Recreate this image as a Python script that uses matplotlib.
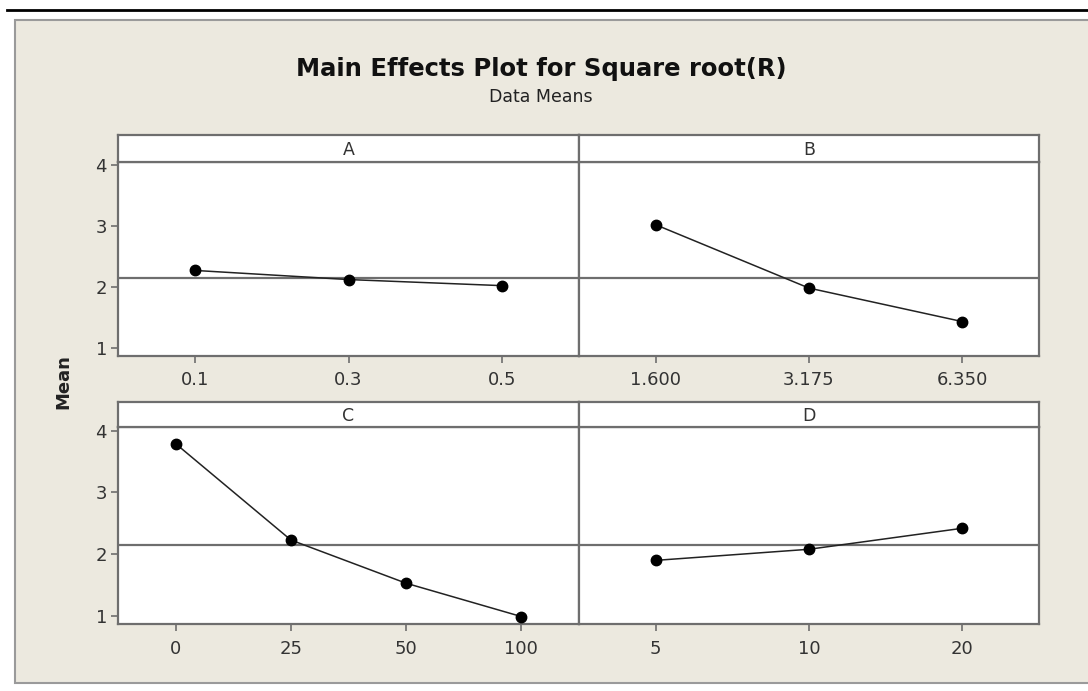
import matplotlib
matplotlib.use("Agg")
import matplotlib.pyplot as plt
from matplotlib.lines import Line2D
from matplotlib.patches import Rectangle

FACTORES = ["A", "B", "C", "D"]
NIVELES = {
    "A": ["0.1", "0.3", "0.5"],
    "B": ["1.600", "3.175", "6.350"],
    "C": ["0", "25", "50", "100"],
    "D": ["5", "10", "20"],
}
MEDIAS = {
    "A": [2.27, 2.12, 2.02],
    "B": [3.02, 1.98, 1.43],
    "C": [3.79, 2.23, 1.53, 0.99],
    "D": [1.90, 2.08, 2.42],
}
MEDIA_GLOBAL = 2.15
Y_TICKS = [1, 2, 3, 4]

ANCHO, ALTO = 1088, 691
FONDO = "#ece9df"
GRIS = "#6e6e6e"
plt.rcParams["font.family"] = "DejaVu Sans"

fig = plt.figure(figsize=(ANCHO / 100, ALTO / 100), dpi=100, facecolor="white")


def px(x, y, w, h):
    # pixel box (from top-left) -> figure fraction
    return [x / ANCHO, 1 - (y + h) / ALTO, w / ANCHO, h / ALTO]


# marco beige y linea negra superior
fig.add_artist(Line2D([7 / ANCHO, 1], [1 - 10 / ALTO] * 2, color="black", lw=2))
fig.add_artist(Rectangle((15 / ANCHO, 1 - 683 / ALTO), 1.0, (683 - 20) / ALTO,
                         facecolor=FONDO, edgecolor="#9a9a9a", lw=1.5,
                         transform=fig.transFigure, zorder=0))

fig.text(541 / ANCHO, 1 - 69 / ALTO, "Main Effects Plot for Square root(R)",
         ha="center", va="center", fontsize=17.5, fontweight="bold", color="#111111")
fig.text(541 / ANCHO, 1 - 97 / ALTO, "Data Means", ha="center", va="center",
         fontsize=12.5, color="#222222")
fig.text(63 / ANCHO, 1 - 382 / ALTO, "Mean", ha="center", va="center",
         rotation=90, fontsize=13, fontweight="bold", color="#222222")

COLUMNAS = [(118, 461), (579, 460)]
FILAS = [(135, 161.7, 356), (401.7, 427.3, 624.3)]

for i, factor in enumerate(FACTORES):
    fila, col = divmod(i, 2)
    x0, w = COLUMNAS[col]
    y_strip, y_top, y_bot = FILAS[fila]

    ax = fig.add_axes(px(x0, y_top, w, y_bot - y_top))
    niveles = NIVELES[factor]
    pos = list(range(1, len(niveles) + 1))
    ax.axhline(MEDIA_GLOBAL, color=GRIS, lw=1.6, zorder=1)
    ax.plot(pos, MEDIAS[factor], color="#222222", lw=1.1, marker="o",
            markersize=7.5, markerfacecolor="black", markeredgecolor="black", zorder=3)
    ax.set_xlim(0.5, len(niveles) + 0.5)
    ax.set_ylim(0.865, 4.055)
    ax.set_xticks(pos)
    ax.set_xticklabels(niveles)
    ax.set_yticks(Y_TICKS)
    if col == 1:
        ax.tick_params(axis="y", left=False, labelleft=False)
    ax.tick_params(axis="both", direction="out", length=5, width=1.2, color=GRIS,
                   labelsize=13, labelcolor="#333333", pad=3)
    ax.tick_params(axis="x", pad=6)
    for s in ax.spines.values():
        s.set_color(GRIS)
        s.set_linewidth(1.6)

    # franja con el nombre del factor
    st = fig.add_axes(px(x0, y_strip, w, y_top - y_strip))
    st.set_xticks([])
    st.set_yticks([])
    for s in st.spines.values():
        s.set_color(GRIS)
        s.set_linewidth(1.6)
    st.text(0.5, 0.45, factor, ha="center", va="center", fontsize=12.5,
            color="#333333", transform=st.transAxes)

fig.savefig("out.png", dpi=100, facecolor=fig.get_facecolor())
